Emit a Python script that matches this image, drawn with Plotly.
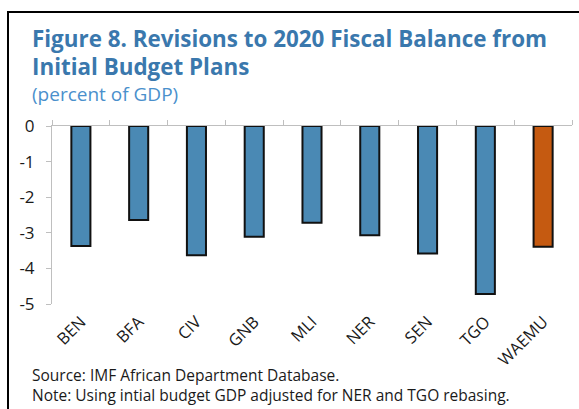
import plotly.graph_objects as go

# Revisions to 2020 fiscal balance vs. initial budget plans (percent of GDP)
countries = ["BEN", "BFA", "CIV", "GNB", "MLI", "NER", "SEN", "TGO", "WAEMU"]
revisions = [-3.37, -2.64, -3.63, -3.11, -2.72, -3.07, -3.58, -4.72, -3.39]
bar_colors = ["#4a89b4"] * 8 + ["#c55a11"]

y_ticks = [0, -1, -2, -3, -4, -5]

W, H = 579, 409
L, R, T, B = 52, 7, 126, 105
plot_w = W - L - R
plot_h = H - T - B


def px_x(x):
    return (x - L) / plot_w


def px_y(y):
    return (H - B - y) / plot_h


fig = go.Figure()

fig.add_trace(go.Bar(
    x=countries,
    y=revisions,
    marker=dict(color=bar_colors, line=dict(color="#111111", width=2)),
    width=0.33,
    showlegend=False,
    hoverinfo="x+y",
))

# invisible trace on the top axis so its category boundary ticks render
fig.add_trace(go.Scatter(
    x=list(range(len(countries))), y=[0] * len(countries),
    xaxis="x2", mode="markers", marker=dict(opacity=0),
    showlegend=False, hoverinfo="skip",
))

axis_gray = "#bfbfbf"
text_dark = "#1a1a1a"
font_main = "Open Sans"

fig.update_layout(
    width=W, height=H,
    margin=dict(l=L, r=R, t=T, b=B, pad=0),
    paper_bgcolor="white",
    plot_bgcolor="white",
    font=dict(family=font_main, color=text_dark),
    xaxis=dict(
        type="category",
        showline=False, showgrid=False, zeroline=False,
        ticks="", tickangle=-45,
        tickfont=dict(size=16.5, color=text_dark, family=font_main),
        ticklabelstandoff=4,
        range=[-0.5, len(countries) - 0.5],
    ),
    xaxis2=dict(
        overlaying="x", side="top", anchor="y",
        range=[-0.5, len(countries) - 0.5],
        tickvals=[i - 0.5 for i in range(len(countries) + 1)],
        showticklabels=False,
        ticks="outside", ticklen=5, tickcolor=axis_gray, tickwidth=1,
        showline=True, linecolor=axis_gray, linewidth=1,
        showgrid=False, zeroline=False,
    ),
    yaxis=dict(
        range=[-5, 0],
        tickvals=y_ticks,
        ticktext=[str(v) for v in y_ticks],
        ticks="outside", ticklen=5, tickcolor=axis_gray, tickwidth=1,
        showline=True, linecolor=axis_gray, linewidth=1,
        showgrid=False, zeroline=False,
        tickfont=dict(size=17, color=text_dark, family=font_main),
        ticklabelstandoff=8,
    ),
    bargap=0.67,
)

title_blue = "#3a78ad"
sub_blue = "#4a90cc"

annots = [
    dict(text="<b>Figure 8. Revisions to 2020 Fiscal Balance from</b>", y=38.5,
         size=22.4, color=title_blue),
    dict(text="<b>Initial Budget Plans</b>", y=66.5, size=22.4, color=title_blue),
    dict(text="(percent of GDP)", y=94, size=19, color=sub_blue),
    dict(text="Source: IMF African Department Database.", y=374.5, size=15.5,
         color=text_dark),
    dict(text="Note: Using intial budget GDP adjusted for NER and TGO rebasing.",
         y=395, size=15.5, color=text_dark),
]
for a in annots:
    fig.add_annotation(
        xref="paper", yref="paper", x=px_x(30), y=px_y(a["y"]),
        xanchor="left", yanchor="middle", showarrow=False,
        text=a["text"], font=dict(size=a["size"], color=a["color"], family=font_main),
    )

# black frame around the exhibit
fig.add_shape(
    type="rect", xref="paper", yref="paper",
    x0=px_x(8), y0=px_y(H + 20), x1=px_x(W + 20), y1=px_y(12),
    line=dict(color="#000000", width=2), fillcolor="rgba(0,0,0,0)",
    layer="below",
)

fig.write_html("out.html")
